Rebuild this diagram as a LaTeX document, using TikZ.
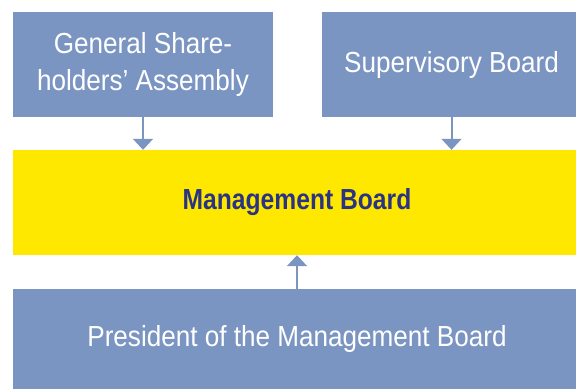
\documentclass[tikz,border=0pt]{standalone}
\usepackage{fontspec}
\setmainfont{Liberation Sans}[FakeStretch=0.9]
\newfontfamily\mbfont{Liberation Sans}[FakeStretch=0.85]
\usepackage{xcolor}
\usepackage{tikz}
\usetikzlibrary{arrows.meta}

\definecolor{boardblue}{HTML}{7B95C2}
\definecolor{boardyellow}{HTML}{FFE800}
\definecolor{boardnavy}{HTML}{2B3383}

\begin{document}
\begin{tikzpicture}[
    x=1bp, y=-1bp,
    font=\fontsize{29bp}{36.5bp}\selectfont,
    bluebox/.style={rectangle, fill=boardblue, text=white, inner sep=+0pt, align=center},
    link/.style={draw=boardblue, line width=2bp, -{Triangle[width=20bp,length=11bp]}}
    ]
\clip (0,0) rectangle (576,389);
\node[bluebox, minimum width=260bp, minimum height=105bp] (gsa) at (143.0,64.5) {General Share-\\holders' Assembly};
\node[bluebox, minimum width=259bp, minimum height=105bp] (sup) at (451.5,64.5) {Supervisory Board};
\node[rectangle, fill=boardyellow, text=boardnavy, inner sep=+0pt, minimum width=568bp, minimum height=105bp] (mgmt) at (297.0,202.5) {\mbfont\bfseries Management Board};
\node[bluebox, minimum width=568bp, minimum height=100bp] (pres) at (297.0,339.0) {President of the Management Board};

\draw[link] (gsa.south) -- (gsa.south |- mgmt.north);
\draw[link] (sup.south) -- (sup.south |- mgmt.north);
\draw[link] (pres.north) -- (mgmt.south);

\end{tikzpicture}
\end{document}
